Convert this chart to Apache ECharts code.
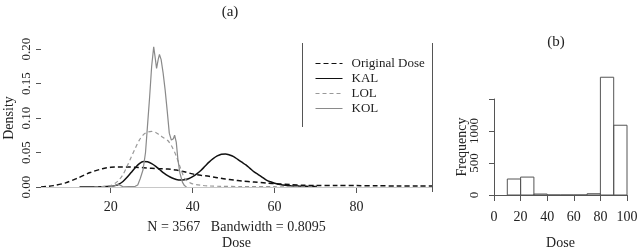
<!DOCTYPE html>
<html>
<head>
<meta charset="utf-8">
<script src="https://cdn.jsdelivr.net/npm/echarts@6/dist/echarts.min.js"></script>
<style>
  html, body { margin: 0; padding: 0; background: #fff; }
  #chart { width: 640px; height: 249px; }
</style>
</head>
<body>
<div id="chart"></div>
<script>
// panel (a): kernel density curves
const origDose = [3, 6, 9, 12, 15, 18, 20, 22, 24, 26, 28, 30, 32, 34, 36, 38, 40, 42, 44, 46, 48, 50, 52, 55, 58, 61, 64, 67, 70, 75, 80, 85, 90, 95, 98.4];
const origDens = [0, 0.002, 0.006, 0.013, 0.021, 0.0265, 0.0285, 0.029, 0.029, 0.0285, 0.028, 0.027, 0.0265, 0.026, 0.0245, 0.022, 0.019, 0.017, 0.0155, 0.0135, 0.0115, 0.010, 0.0088, 0.0072, 0.0058, 0.0045, 0.0035, 0.0025, 0.002, 0.002, 0.002, 0.0018, 0.0015, 0.0015, 0.0015];

const kalDose = [12.4, 15, 18, 20, 21, 22, 23, 24, 25, 26, 27, 28, 29, 30, 31, 32, 33, 34, 35, 36, 37, 38, 39, 40, 41, 42, 43, 44, 45, 46, 47, 48, 49, 50, 51, 52, 53, 54, 55, 56, 57, 58, 59, 60, 61, 62, 63, 64, 66, 68, 70.3];
const kalDens = [0, 0, 0.0003, 0.001, 0.002, 0.004, 0.008, 0.014, 0.021, 0.028, 0.034, 0.037, 0.0365, 0.034, 0.030, 0.025, 0.020, 0.016, 0.013, 0.011, 0.010, 0.0105, 0.012, 0.015, 0.019, 0.024, 0.030, 0.036, 0.041, 0.045, 0.0475, 0.048, 0.0465, 0.044, 0.040, 0.036, 0.032, 0.027, 0.022, 0.018, 0.014, 0.010, 0.0075, 0.0055, 0.004, 0.003, 0.0022, 0.0018, 0.0013, 0.001, 0.0008];

const lolDose = [16, 19, 20, 21, 22, 23, 24, 25, 26, 27, 28, 29, 30, 31, 32, 33, 34, 35, 36, 37, 38, 39, 40, 42, 44, 47, 52, 60, 70];
const lolDens = [0, 0.001, 0.002, 0.005, 0.010, 0.018, 0.030, 0.043, 0.056, 0.068, 0.076, 0.0795, 0.0805, 0.079, 0.075, 0.071, 0.067, 0.058, 0.045, 0.028, 0.013, 0.0075, 0.0045, 0.0025, 0.0015, 0.001, 0.0006, 0.0004, 0.0002];

const kolDose = [19.7, 21, 21.8, 22.5, 23, 26, 26.6, 27.2, 27.9, 28.5, 29, 29.5, 30, 30.5, 30.8, 31.2, 31.6, 31.9, 32.3, 32.8, 33.3, 33.8, 34.3, 34.8, 35.3, 35.6, 36, 36.4, 36.9, 37.5, 38, 38.5];
const kolDens = [0, 0.002, 0.004, 0.002, 0.0003, 0.001, 0.003, 0.012, 0.025, 0.05, 0.09, 0.13, 0.175, 0.203, 0.19, 0.172, 0.185, 0.192, 0.185, 0.165, 0.14, 0.11, 0.078, 0.068, 0.07, 0.075, 0.065, 0.04, 0.02, 0.007, 0.002, 0];

const densTicks = [20, 40, 60, 80];

// panel (b): histogram
const histBreaks = [10, 20, 30, 40, 50, 60, 70, 80, 90, 100];
const histCounts = [250, 280, 15, 0, 0, 0, 20, 1840, 1090];

const serif = '"Liberation Serif", "DejaVu Serif", serif';
const axisCol = '#555';
const textCol = '#222';

function pairs(xs, ys) {
  return xs.map((x, i) => [x, ys[i]]);
}

const histData = histCounts.map((c, i) => [histBreaks[i], histBreaks[i + 1], c]);

const chart = echarts.init(document.getElementById('chart'), null, { renderer: 'canvas' });

chart.setOption({
  animation: false,
  backgroundColor: '#fff',
  textStyle: { fontFamily: serif, color: textCol },
  title: [
    { text: '(a)', left: 225, top: 0, textAlign: 'center',
      textStyle: { fontFamily: serif, fontSize: 15, fontWeight: 'normal', color: textCol } },
    { text: '(b)', left: 551, top: 30, textAlign: 'center',
      textStyle: { fontFamily: serif, fontSize: 15, fontWeight: 'normal', color: textCol } }
  ],
  legend: {
    orient: 'vertical',
    left: 310,
    top: 52,
    itemWidth: 27,
    itemHeight: 14,
    itemGap: 2,
    data: ['Original Dose', 'KAL', 'LOL', 'KOL'],
    itemStyle: { opacity: 0 },
    lineStyle: { width: 1 },
    textStyle: { fontFamily: serif, fontSize: 13, color: textCol, padding: [0, 0, 0, 4] }
  },
  graphic: [
    { type: 'line', shape: { x1: 302.5, y1: 43, x2: 302.5, y2: 127 }, style: { stroke: axisCol, lineWidth: 1 } },
    { type: 'line', shape: { x1: 432.5, y1: 43, x2: 432.5, y2: 192 }, style: { stroke: axisCol, lineWidth: 1 } }
  ],
  grid: [
    { left: 41, right: 208, top: 49, bottom: 62, containLabel: false, outerBoundsMode: 'none' },
    { left: 494, right: 13, top: 99, bottom: 54, containLabel: false, outerBoundsMode: 'none' }
  ],
  xAxis: [
    {
      gridIndex: 0, type: 'value', min: 3, max: 98.4, offset: 5,
      splitLine: { show: false },
      axisLine: { show: true, lineStyle: { color: axisCol } },
      axisTick: { show: true, length: 6, customValues: densTicks, lineStyle: { color: axisCol } },
      axisLabel: { customValues: densTicks, margin: 8, fontSize: 14, fontFamily: serif, color: textCol },
      name: 'N = 3567   Bandwidth = 0.8095\nDose',
      nameLocation: 'middle', nameGap: 21,
      nameTextStyle: { fontSize: 14, fontFamily: serif, color: textCol, lineHeight: 16 }
    },
    {
      gridIndex: 1, type: 'value', min: 0, max: 100, interval: 20, offset: 5,
      splitLine: { show: false },
      axisLine: { show: true, lineStyle: { color: axisCol } },
      axisTick: { show: true, length: 6, lineStyle: { color: axisCol } },
      axisLabel: { margin: 10, fontSize: 14, fontFamily: serif, color: textCol, showMinLabel: true, showMaxLabel: true },
      name: 'Dose', nameLocation: 'middle', nameGap: 36,
      nameTextStyle: { fontSize: 14, fontFamily: serif, color: textCol }
    }
  ],
  yAxis: [
    {
      gridIndex: 0, type: 'value', min: 0, max: 0.2, interval: 0.05,
      splitLine: { show: false },
      axisLine: { show: false },
      axisTick: { show: true, length: 5, lineStyle: { color: axisCol } },
      axisLabel: { rotate: 90, margin: 8, fontSize: 13, fontFamily: serif, color: textCol,
        formatter: v => v.toFixed(2) },
      name: 'Density', nameLocation: 'middle', nameGap: 25, nameRotate: 90, nameMoveOverlap: false,
      nameTextStyle: { fontSize: 14, fontFamily: serif, color: textCol }
    },
    {
      gridIndex: 1, type: 'value', min: 0, max: 1500, interval: 500, offset: 5,
      splitLine: { show: false },
      axisLine: { show: true, lineStyle: { color: axisCol } },
      axisTick: { show: true, length: 5, lineStyle: { color: axisCol } },
      axisLabel: { rotate: 90, margin: 8, fontSize: 13, fontFamily: serif, color: textCol,
        formatter: v => (v >= 1500 ? '' : String(v)) },
      name: 'Frequency', nameLocation: 'middle', nameGap: 20, nameRotate: 90, nameMoveOverlap: false,
      nameTextStyle: { fontSize: 14, fontFamily: serif, color: textCol }
    }
  ],
  series: [
    {
      name: 'Original Dose', type: 'line', xAxisIndex: 0, yAxisIndex: 0,
      data: pairs(origDose, origDens), symbol: 'none', smooth: 0.3, clip: false,
      lineStyle: { color: '#111', width: 1.5, type: [5, 3] },
      itemStyle: { color: '#111' },
      markLine: {
        silent: true, symbol: 'none', label: { show: false },
        lineStyle: { color: '#c8c8c8', width: 1, type: 'solid' },
        data: [{ yAxis: 0 }]
      }
    },
    {
      name: 'KAL', type: 'line', xAxisIndex: 0, yAxisIndex: 0,
      data: pairs(kalDose, kalDens), symbol: 'none', smooth: 0.3, clip: false,
      lineStyle: { color: '#111', width: 1.5 },
      itemStyle: { color: '#111' }
    },
    {
      name: 'LOL', type: 'line', xAxisIndex: 0, yAxisIndex: 0,
      data: pairs(lolDose, lolDens), symbol: 'none', smooth: 0.3, clip: false,
      lineStyle: { color: '#999', width: 1.2, type: [4, 3] },
      itemStyle: { color: '#999' }
    },
    {
      name: 'KOL', type: 'line', xAxisIndex: 0, yAxisIndex: 0,
      data: pairs(kolDose, kolDens), symbol: 'none', smooth: false, clip: false,
      lineStyle: { color: '#8a8a8a', width: 1.2 },
      itemStyle: { color: '#8a8a8a' }
    },
    {
      name: 'hist', type: 'custom', xAxisIndex: 1, yAxisIndex: 1, clip: false,
      data: histData,
      encode: { x: [0, 1], y: 2 },
      renderItem: function (params, api) {
        const p0 = api.coord([api.value(0), 0]);
        const p1 = api.coord([api.value(1), api.value(2)]);
        return {
          type: 'rect',
          shape: { x: p0[0], y: p1[1], width: p1[0] - p0[0], height: p0[1] - p1[1] },
          style: { fill: null, stroke: '#555', lineWidth: 1 }
        };
      }
    }
  ]
});
</script>
</body>
</html>
